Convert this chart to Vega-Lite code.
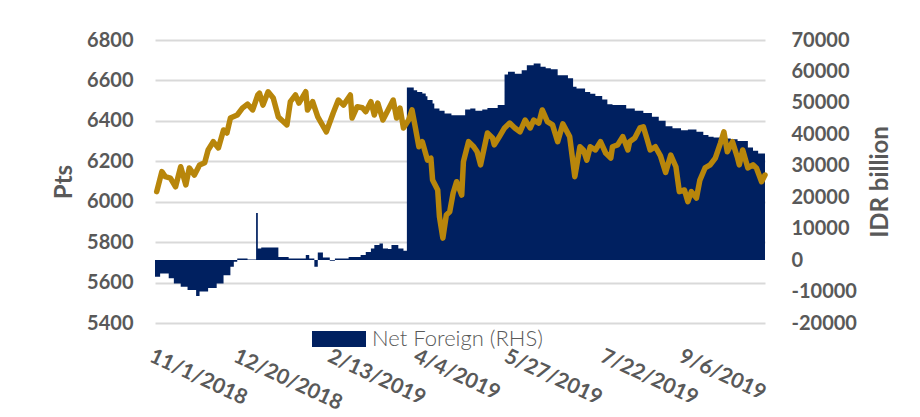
{
  "$schema": "https://vega.github.io/schema/vega-lite/v6.json",
  "width": 610,
  "height": 283,
  "autosize": {"type": "none"},
  "padding": {"left": 155, "top": 40, "right": 155, "bottom": 94},
  "background": "white",
  "config": {"view": {"stroke": null}, "font": "Lato"},
  "datasets": {
    "nf": [
      {"date": "2018/11/01", "netForeign": -5300},
      {"date": "2018/11/04", "netForeign": -4240},
      {"date": "2018/11/09", "netForeign": -5800},
      {"date": "2018/11/12", "netForeign": -7400},
      {"date": "2018/11/16", "netForeign": -8500},
      {"date": "2018/11/20", "netForeign": -9500},
      {"date": "2018/11/25", "netForeign": -11400},
      {"date": "2018/11/27", "netForeign": -10000},
      {"date": "2018/12/02", "netForeign": -8900},
      {"date": "2018/12/07", "netForeign": -7400},
      {"date": "2018/12/11", "netForeign": -4800},
      {"date": "2018/12/15", "netForeign": -2100},
      {"date": "2018/12/17", "netForeign": -500},
      {"date": "2018/12/19", "netForeign": 500},
      {"date": "2018/12/25", "netForeign": 200},
      {"date": "2018/12/30", "netForeign": 15000},
      {"date": "2018/12/31", "netForeign": 3700},
      {"date": "2019/01/02", "netForeign": 4000},
      {"date": "2019/01/12", "netForeign": 1000},
      {"date": "2019/01/18", "netForeign": 500},
      {"date": "2019/01/28", "netForeign": 1600},
      {"date": "2019/01/30", "netForeign": 500},
      {"date": "2019/02/02", "netForeign": -2100},
      {"date": "2019/02/04", "netForeign": 2400},
      {"date": "2019/02/07", "netForeign": 800},
      {"date": "2019/02/11", "netForeign": -200},
      {"date": "2019/02/14", "netForeign": 500},
      {"date": "2019/02/22", "netForeign": 1000},
      {"date": "2019/03/01", "netForeign": 1600},
      {"date": "2019/03/04", "netForeign": 2600},
      {"date": "2019/03/07", "netForeign": 3700},
      {"date": "2019/03/09", "netForeign": 4800},
      {"date": "2019/03/12", "netForeign": 5300},
      {"date": "2019/03/14", "netForeign": 3700},
      {"date": "2019/03/17", "netForeign": 3500},
      {"date": "2019/03/19", "netForeign": 4800},
      {"date": "2019/03/23", "netForeign": 3700},
      {"date": "2019/03/26", "netForeign": 3000},
      {"date": "2019/03/28", "netForeign": 54900},
      {"date": "2019/04/01", "netForeign": 54000},
      {"date": "2019/04/03", "netForeign": 53500},
      {"date": "2019/04/06", "netForeign": 53000},
      {"date": "2019/04/08", "netForeign": 52100},
      {"date": "2019/04/09", "netForeign": 50900},
      {"date": "2019/04/12", "netForeign": 49800},
      {"date": "2019/04/13", "netForeign": 48200},
      {"date": "2019/04/16", "netForeign": 47500},
      {"date": "2019/04/19", "netForeign": 46600},
      {"date": "2019/04/23", "netForeign": 46100},
      {"date": "2019/05/01", "netForeign": 47900},
      {"date": "2019/05/04", "netForeign": 48200},
      {"date": "2019/05/07", "netForeign": 47500},
      {"date": "2019/05/11", "netForeign": 47900},
      {"date": "2019/05/14", "netForeign": 48400},
      {"date": "2019/05/20", "netForeign": 49300},
      {"date": "2019/05/24", "netForeign": 59000},
      {"date": "2019/05/26", "netForeign": 59900},
      {"date": "2019/05/30", "netForeign": 59300},
      {"date": "2019/06/03", "netForeign": 60400},
      {"date": "2019/06/06", "netForeign": 62000},
      {"date": "2019/06/10", "netForeign": 62500},
      {"date": "2019/06/14", "netForeign": 61500},
      {"date": "2019/06/17", "netForeign": 61000},
      {"date": "2019/06/20", "netForeign": 60700},
      {"date": "2019/06/24", "netForeign": 58800},
      {"date": "2019/06/30", "netForeign": 57800},
      {"date": "2019/07/03", "netForeign": 55100},
      {"date": "2019/07/05", "netForeign": 54600},
      {"date": "2019/07/10", "netForeign": 53500},
      {"date": "2019/07/13", "netForeign": 52900},
      {"date": "2019/07/16", "netForeign": 52200},
      {"date": "2019/07/20", "netForeign": 51100},
      {"date": "2019/07/23", "netForeign": 49600},
      {"date": "2019/07/26", "netForeign": 49300},
      {"date": "2019/08/03", "netForeign": 48200},
      {"date": "2019/08/08", "netForeign": 47500},
      {"date": "2019/08/13", "netForeign": 46800},
      {"date": "2019/08/18", "netForeign": 45600},
      {"date": "2019/08/22", "netForeign": 44300},
      {"date": "2019/08/26", "netForeign": 42600},
      {"date": "2019/08/30", "netForeign": 41900},
      {"date": "2019/09/04", "netForeign": 41300},
      {"date": "2019/09/08", "netForeign": 41500},
      {"date": "2019/09/13", "netForeign": 40800},
      {"date": "2019/09/17", "netForeign": 39800},
      {"date": "2019/09/20", "netForeign": 39200},
      {"date": "2019/09/23", "netForeign": 39000},
      {"date": "2019/09/27", "netForeign": 38700},
      {"date": "2019/10/03", "netForeign": 38400},
      {"date": "2019/10/07", "netForeign": 37900},
      {"date": "2019/10/13", "netForeign": 35800},
      {"date": "2019/10/16", "netForeign": 34800},
      {"date": "2019/10/19", "netForeign": 33900},
      {"date": "2019/10/23", "netForeign": 33900}
    ],
    "jci": [
      {"date": "2018/11/02", "pts": 6050},
      {"date": "2018/11/05", "pts": 6149},
      {"date": "2018/11/07", "pts": 6124},
      {"date": "2018/11/10", "pts": 6117},
      {"date": "2018/11/13", "pts": 6074},
      {"date": "2018/11/16", "pts": 6173},
      {"date": "2018/11/19", "pts": 6083},
      {"date": "2018/11/21", "pts": 6167},
      {"date": "2018/11/24", "pts": 6132},
      {"date": "2018/11/27", "pts": 6182},
      {"date": "2018/11/30", "pts": 6193},
      {"date": "2018/12/02", "pts": 6256},
      {"date": "2018/12/05", "pts": 6297},
      {"date": "2018/12/08", "pts": 6266},
      {"date": "2018/12/11", "pts": 6355},
      {"date": "2018/12/13", "pts": 6340},
      {"date": "2018/12/15", "pts": 6414},
      {"date": "2018/12/19", "pts": 6429},
      {"date": "2018/12/22", "pts": 6463},
      {"date": "2018/12/25", "pts": 6483},
      {"date": "2018/12/28", "pts": 6454},
      {"date": "2018/12/31", "pts": 6528},
      {"date": "2019/01/01", "pts": 6537},
      {"date": "2019/01/03", "pts": 6478},
      {"date": "2019/01/06", "pts": 6544},
      {"date": "2019/01/09", "pts": 6513},
      {"date": "2019/01/12", "pts": 6419},
      {"date": "2019/01/17", "pts": 6380},
      {"date": "2019/01/19", "pts": 6495},
      {"date": "2019/01/22", "pts": 6528},
      {"date": "2019/01/24", "pts": 6488},
      {"date": "2019/01/28", "pts": 6544},
      {"date": "2019/01/29", "pts": 6454},
      {"date": "2019/02/01", "pts": 6495},
      {"date": "2019/02/04", "pts": 6420},
      {"date": "2019/02/09", "pts": 6346},
      {"date": "2019/02/13", "pts": 6439},
      {"date": "2019/02/16", "pts": 6503},
      {"date": "2019/02/19", "pts": 6478},
      {"date": "2019/02/23", "pts": 6528},
      {"date": "2019/02/24", "pts": 6414},
      {"date": "2019/02/27", "pts": 6470},
      {"date": "2019/03/02", "pts": 6465},
      {"date": "2019/03/04", "pts": 6445},
      {"date": "2019/03/07", "pts": 6495},
      {"date": "2019/03/09", "pts": 6429},
      {"date": "2019/03/11", "pts": 6488},
      {"date": "2019/03/14", "pts": 6404},
      {"date": "2019/03/17", "pts": 6454},
      {"date": "2019/03/20", "pts": 6503},
      {"date": "2019/03/22", "pts": 6414},
      {"date": "2019/03/24", "pts": 6463},
      {"date": "2019/03/26", "pts": 6365},
      {"date": "2019/03/29", "pts": 6404},
      {"date": "2019/03/31", "pts": 6454},
      {"date": "2019/04/02", "pts": 6365},
      {"date": "2019/04/04", "pts": 6272},
      {"date": "2019/04/06", "pts": 6297},
      {"date": "2019/04/09", "pts": 6206},
      {"date": "2019/04/11", "pts": 6216},
      {"date": "2019/04/12", "pts": 6107},
      {"date": "2019/04/15", "pts": 6058},
      {"date": "2019/04/16", "pts": 5926},
      {"date": "2019/04/18", "pts": 5820},
      {"date": "2019/04/20", "pts": 5934},
      {"date": "2019/04/22", "pts": 5950},
      {"date": "2019/04/24", "pts": 6043},
      {"date": "2019/04/26", "pts": 6099},
      {"date": "2019/04/29", "pts": 6033},
      {"date": "2019/04/30", "pts": 6198},
      {"date": "2019/05/03", "pts": 6297},
      {"date": "2019/05/06", "pts": 6272},
      {"date": "2019/05/08", "pts": 6247},
      {"date": "2019/05/10", "pts": 6182},
      {"date": "2019/05/14", "pts": 6340},
      {"date": "2019/05/17", "pts": 6315},
      {"date": "2019/05/18", "pts": 6281},
      {"date": "2019/05/21", "pts": 6322},
      {"date": "2019/05/24", "pts": 6365},
      {"date": "2019/05/27", "pts": 6389},
      {"date": "2019/05/30", "pts": 6365},
      {"date": "2019/06/02", "pts": 6346},
      {"date": "2019/06/05", "pts": 6404},
      {"date": "2019/06/08", "pts": 6365},
      {"date": "2019/06/10", "pts": 6404},
      {"date": "2019/06/13", "pts": 6389},
      {"date": "2019/06/15", "pts": 6454},
      {"date": "2019/06/18", "pts": 6396},
      {"date": "2019/06/21", "pts": 6380},
      {"date": "2019/06/24", "pts": 6297},
      {"date": "2019/06/27", "pts": 6385},
      {"date": "2019/07/01", "pts": 6322},
      {"date": "2019/07/04", "pts": 6124},
      {"date": "2019/07/07", "pts": 6272},
      {"date": "2019/07/09", "pts": 6256},
      {"date": "2019/07/11", "pts": 6206},
      {"date": "2019/07/13", "pts": 6272},
      {"date": "2019/07/16", "pts": 6256},
      {"date": "2019/07/19", "pts": 6297},
      {"date": "2019/07/22", "pts": 6241},
      {"date": "2019/07/25", "pts": 6216},
      {"date": "2019/07/26", "pts": 6272},
      {"date": "2019/07/29", "pts": 6281},
      {"date": "2019/08/01", "pts": 6322},
      {"date": "2019/08/04", "pts": 6256},
      {"date": "2019/08/05", "pts": 6297},
      {"date": "2019/08/08", "pts": 6315},
      {"date": "2019/08/11", "pts": 6365},
      {"date": "2019/08/13", "pts": 6371},
      {"date": "2019/08/15", "pts": 6315},
      {"date": "2019/08/17", "pts": 6256},
      {"date": "2019/08/20", "pts": 6272},
      {"date": "2019/08/23", "pts": 6227},
      {"date": "2019/08/26", "pts": 6145},
      {"date": "2019/08/29", "pts": 6231},
      {"date": "2019/09/01", "pts": 6173},
      {"date": "2019/09/03", "pts": 6050},
      {"date": "2019/09/06", "pts": 6058},
      {"date": "2019/09/08", "pts": 6000},
      {"date": "2019/09/10", "pts": 6050},
      {"date": "2019/09/13", "pts": 6018},
      {"date": "2019/09/15", "pts": 6107},
      {"date": "2019/09/18", "pts": 6167},
      {"date": "2019/09/21", "pts": 6182},
      {"date": "2019/09/24", "pts": 6216},
      {"date": "2019/09/27", "pts": 6290},
      {"date": "2019/09/29", "pts": 6346},
      {"date": "2019/10/01", "pts": 6247},
      {"date": "2019/10/04", "pts": 6297},
      {"date": "2019/10/07", "pts": 6216},
      {"date": "2019/10/08", "pts": 6182},
      {"date": "2019/10/10", "pts": 6256},
      {"date": "2019/10/13", "pts": 6167},
      {"date": "2019/10/16", "pts": 6182},
      {"date": "2019/10/18", "pts": 6167},
      {"date": "2019/10/21", "pts": 6099},
      {"date": "2019/10/23", "pts": 6132}
    ]
  },
  "encoding": {
    "x": {
      "field": "date",
      "type": "temporal",
      "scale": {"domain": [{"year": 2018, "month": 11, "date": 1}, {"year": 2019, "month": 10, "date": 23}]},
      "axis": {
        "title": null,
        "values": [
          {"year": 2018, "month": 11, "date": 1},
          {"year": 2018, "month": 12, "date": 20},
          {"year": 2019, "month": 2, "date": 13},
          {"year": 2019, "month": 4, "date": 4},
          {"year": 2019, "month": 5, "date": 27},
          {"year": 2019, "month": 7, "date": 22},
          {"year": 2019, "month": 9, "date": 6}
        ],
        "format": "%-m/%-d/%Y",
        "labelAngle": 25,
        "labelAlign": "left",
        "labelBaseline": "top",
        "labelFont": "Lato",
        "labelFontSize": 21,
        "labelFontWeight": "bold",
        "labelColor": "#595959",
        "labelPadding": 22,
        "labelFlush": false,
        "labelOverlap": false,
        "labelBound": false,
        "domain": false,
        "ticks": false,
        "tickSize": 0,
        "grid": false
      }
    }
  },
  "layer": [
    {
      "data": {"name": "nf"},
      "mark": {"type": "area", "interpolate": "step-after", "opacity": 1},
      "encoding": {
        "y": {
          "field": "netForeign",
          "type": "quantitative",
          "scale": {"domain": [-20000, 70000], "nice": false},
          "axis": {
            "orient": "right",
            "title": "IDR billion",
            "values": [-20000, -10000, 0, 10000, 20000, 30000, 40000, 50000, 60000, 70000],
            "labelExpr": "datum.value + ''",
            "grid": false,
            "domain": false,
            "ticks": false,
            "tickSize": 0,
            "labelPadding": 26,
            "labelFont": "Lato",
            "labelFontSize": 20,
            "labelFontWeight": "bold",
            "labelColor": "#595959",
            "titleFont": "Lato",
            "titleFontSize": 24,
            "titleFontWeight": "bold",
            "titleColor": "#595959",
            "titleAngle": -90,
            "titleBaseline": "top",
            "titlePadding": 12
          }
        },
        "y2": {"datum": 0},
        "color": {
          "datum": "Net Foreign (RHS)",
          "scale": {"range": ["#002060"]},
          "legend": {
            "orient": "none",
            "legendX": 157,
            "legendY": 272,
            "title": null,
            "padding": 0,
            "symbolType": "M-1,-0.3H1V0.3H-1Z",
            "symbolSize": 2916,
            "symbolStrokeWidth": 0,
            "symbolOpacity": 1,
            "labelFont": "Lato",
            "labelFontSize": 22,
            "labelFontWeight": 300,
            "labelColor": "#595959",
            "labelOffset": 6,
            "labelLimit": 400
          }
        }
      }
    },
    {
      "data": {"name": "jci"},
      "mark": {"type": "line", "color": "#B8860B", "strokeWidth": 5.5, "strokeJoin": "round", "strokeCap": "round"},
      "encoding": {
        "y": {
          "field": "pts",
          "type": "quantitative",
          "scale": {"domain": [5400, 6800], "nice": false, "zero": false},
          "axis": {
            "orient": "left",
            "title": "Pts",
            "values": [5400, 5600, 5800, 6000, 6200, 6400, 6600, 6800],
            "format": "d",
            "grid": true,
            "gridColor": "#D9D9D9",
            "gridWidth": 2,
            "domain": false,
            "ticks": false,
            "tickSize": 0,
            "labelPadding": 22,
            "labelFont": "Lato",
            "labelFontSize": 20,
            "labelFontWeight": "bold",
            "labelColor": "#595959",
            "titleFont": "Lato",
            "titleFontSize": 24,
            "titleFontWeight": "bold",
            "titleColor": "#595959",
            "titlePadding": 10
          }
        }
      }
    }
  ],
  "resolve": {"scale": {"y": "independent"}}
}
